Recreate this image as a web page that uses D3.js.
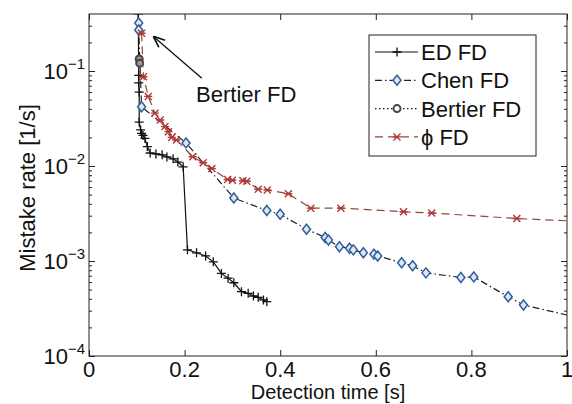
<!DOCTYPE html>
<meta charset="utf-8">
<html lang="en">
<head>
    <title>Mistake rate vs detection time</title>
    <script src="https://cdn.jsdelivr.net/npm/d3@7"></script>
</head>
<style>
    body { margin: 0; background: #fff; }
    svg { display: block; }
    text { font-family: "Liberation Sans", Arial, sans-serif; fill: #111; }
</style>
<body>
<svg width="572" height="404"></svg>
<script>
    // detection time [s] / mistake rate [1/s]
    const edX = [0.103, 0.104, 0.104, 0.105, 0.105, 0.108, 0.110, 0.113, 0.117, 0.122, 0.128, 0.140, 0.153, 0.163, 0.176, 0.186, 0.197, 0.206, 0.225, 0.244, 0.260, 0.277, 0.291, 0.303, 0.319, 0.333, 0.344, 0.354, 0.365, 0.372]
    const edY = [0.40, 0.09, 0.075, 0.06, 0.029, 0.024, 0.022, 0.021, 0.0195, 0.016, 0.0137, 0.0134, 0.0131, 0.01245, 0.0119, 0.011, 0.0098, 0.00131, 0.00122, 0.00113, 0.00098, 0.00074, 0.00066, 0.00059, 0.000475, 0.000457, 0.000428, 0.000415, 0.000389, 0.000373]

    const chenX = [0.104, 0.104, 0.110, 0.203, 0.303, 0.372, 0.400, 0.455, 0.494, 0.501, 0.524, 0.545, 0.553, 0.574, 0.596, 0.604, 0.654, 0.677, 0.705, 0.778, 0.805, 0.877, 0.909, 1.0]
    const chenY = [0.32, 0.27, 0.042, 0.0175, 0.0046, 0.0034, 0.0031, 0.00216, 0.00177, 0.00166, 0.00141, 0.00136, 0.00131, 0.00122, 0.00118, 0.00113, 0.00096, 0.00089, 0.00075, 0.00067, 0.00068, 0.00042, 0.000344, 0.00027]

    const bertierX = [0.105, 0.106]
    const bertierY = [0.134, 0.121]

    const phiX = [0.110, 0.114, 0.124, 0.138, 0.149, 0.159, 0.166, 0.173, 0.183, 0.217, 0.239, 0.257, 0.290, 0.300, 0.322, 0.330, 0.354, 0.373, 0.417, 0.464, 0.527, 0.658, 0.717, 0.895, 1.0]
    const phiY = [0.25, 0.087, 0.054, 0.036, 0.0305, 0.026, 0.023, 0.020, 0.0188, 0.0125, 0.0108, 0.0094, 0.0072, 0.0071, 0.0070, 0.0069, 0.0057, 0.0056, 0.0051, 0.0036, 0.0036, 0.0033, 0.0032, 0.0028, 0.00265]

    const xTicks = [0, 0.2, 0.4, 0.6, 0.8, 1]
    const yTicks = [1e-4, 1e-3, 1e-2, 1e-1]
    const yExp = ["\u22124", "\u22123", "\u22122", "\u22121"]

    const margin = {left: 89, top: 14, right: 5, bottom: 48}
    const W = 572, H = 404
    const iw = W - margin.left - margin.right
    const ih = H - margin.top - margin.bottom

    const svg = d3.select("svg")
    const g = svg.append("g").attr("transform", `translate(${margin.left},${margin.top})`)

    const x = d3.scaleLinear().domain([0, 1]).range([0, iw])
    const y = d3.scaleLog().domain([1e-4, Math.pow(10, -0.4)]).range([ih, 0])

    g.append("clipPath").attr("id", "clip")
        .append("rect").attr("width", iw).attr("height", ih)

    // frame + inward ticks (matlab style, mirrored)
    g.append("rect").attr("width", iw).attr("height", ih)
        .attr("fill", "none").attr("stroke", "#222").attr("stroke-width", 1)

    const minor = []
    for (let e = -4; e < 0; e++) for (let m = 2; m <= 9; m++) {
        const v = m * Math.pow(10, e)
        if (v <= y.domain()[1]) minor.push(v)
    }

    g.append("g").call(d3.axisBottom(x).tickValues(xTicks).tickSize(-6).tickFormat(""))
        .attr("transform", `translate(0,${ih})`)
    g.append("g").call(d3.axisTop(x).tickValues(xTicks).tickSize(-6).tickFormat(""))
    g.append("g").call(d3.axisLeft(y).tickValues(yTicks).tickSize(-6).tickFormat(""))
    g.append("g").call(d3.axisLeft(y).tickValues(minor).tickSize(-3).tickFormat(""))
    g.append("g").attr("transform", `translate(${iw},0)`)
        .call(d3.axisRight(y).tickValues(yTicks).tickSize(-6).tickFormat(""))
    g.append("g").attr("transform", `translate(${iw},0)`)
        .call(d3.axisRight(y).tickValues(minor).tickSize(-3).tickFormat(""))
    g.selectAll(".domain").remove()
    g.selectAll(".tick line").attr("stroke", "#222")

    // tick labels
    g.selectAll(".xlab").data(xTicks).enter().append("text")
        .attr("x", d => x(d)).attr("y", ih + 21)
        .attr("text-anchor", "middle").style("font-size", "22px")
        .text(d => d)

    const yl = g.selectAll(".ylab").data(yTicks).enter().append("text")
        .attr("x", -4).attr("y", d => y(d) + 8)
        .attr("text-anchor", "end").style("font-size", "22px")
    yl.append("tspan").text("10")
    yl.append("tspan").attr("dy", -10).style("font-size", "15px").text((d, i) => yExp[i])

    // axis titles
    svg.append("text").attr("x", margin.left + iw / 2).attr("y", 399)
        .attr("text-anchor", "middle").style("font-size", "20px")
        .text("Detection time [s]")
    svg.append("text").attr("transform", `translate(35,${margin.top + ih / 2 + 3}) rotate(-90)`)
        .attr("text-anchor", "middle").style("font-size", "22px")
        .text("Mistake rate [1/s]")

    // series
    const series = [
        {name: "ED FD", xs: edX, ys: edY, color: "#111", dash: null, marker: "plus", mcolor: "#111"},
        {name: "Chen FD", xs: chenX, ys: chenY, color: "#222", dash: "7,3,1.5,3", marker: "diamond", mcolor: "#2f5f9f"},
        {name: "Bertier FD", xs: bertierX, ys: bertierY, color: "#111", dash: "1.5,2.5", marker: "circle", mcolor: "#444"},
        {name: "\u03d5 FD", xs: phiX, ys: phiY, color: "#8a4a3a", dash: "8,5", marker: "star", mcolor: "#b03838"}
    ]

    const line = d3.line().x(d => x(d[0])).y(d => y(d[1]))
    const plot = g.append("g").attr("clip-path", "url(#clip)")

    function drawMarker(sel, kind, color, legend) {
        if (kind === "plus") {
            sel.append("path").attr("d", "M-4.5,0H4.5M0,-4.5V4.5")
                .attr("stroke", color).attr("stroke-width", 1.3).attr("fill", "none")
        } else if (kind === "diamond") {
            sel.append("path").attr("d", "M0,-5L4,0L0,5L-4,0Z")
                .attr("stroke", color).attr("stroke-width", 1.5).attr("fill", "#dfe8f2")
        } else if (kind === "circle") {
            sel.append("circle").attr("r", 3.5)
                .attr("stroke", color).attr("stroke-width", 2).attr("fill", legend ? "#fff" : "#999")
        } else {
            sel.append("path").attr("d", "M-3.5,-3.5L3.5,3.5M-3.5,3.5L3.5,-3.5M-4,0H4")
                .attr("stroke", color).attr("stroke-width", 1.4).attr("fill", "none")
        }
    }

    series.forEach(s => {
        const pts = s.xs.map((v, i) => [v, s.ys[i]])
        plot.append("path").datum(pts).attr("d", line)
            .attr("fill", "none").attr("stroke", s.color).attr("stroke-width", 1.2)
            .attr("stroke-dasharray", s.dash)
        plot.selectAll(null).data(pts.filter(p => p[0] < 1)).enter().append("g")
            .attr("transform", p => `translate(${x(p[0])},${y(p[1])})`)
            .each(function () { drawMarker(d3.select(this), s.marker, s.mcolor, false) })
    })

    // annotation arrow
    svg.append("defs").append("marker").attr("id", "arr")
        .attr("viewBox", "0 0 10 10").attr("refX", 9).attr("refY", 5)
        .attr("markerWidth", 9).attr("markerHeight", 9).attr("orient", "auto")
        .append("path").attr("d", "M0,1L10,5L0,9").attr("fill", "none")
        .attr("stroke", "#111").attr("stroke-width", 1.4)
    g.append("line")
        .attr("x1", x(0.236)).attr("y1", y(0.084))
        .attr("x2", x(0.136)).attr("y2", y(0.228))
        .attr("stroke", "#111").attr("stroke-width", 1.3).attr("marker-end", "url(#arr)")
    g.append("text").attr("x", x(0.224)).attr("y", y(0.047))
        .style("font-size", "22px").text("Bertier FD")

    // legend
    const lg = g.append("g").attr("transform", `translate(${369 - margin.left},${35 - margin.top})`)
    lg.append("rect").attr("width", 167).attr("height", 121)
        .attr("fill", "#fff").attr("stroke", "#222").attr("stroke-width", 1)
    series.forEach((s, i) => {
        const row = lg.append("g").attr("transform", `translate(0,${17 + i * 28.3})`)
        row.append("line").attr("x1", 6).attr("x2", 49)
            .attr("stroke", s.color).attr("stroke-width", 1.2).attr("stroke-dasharray", s.dash)
        drawMarker(row.append("g").attr("transform", "translate(28,0)"), s.marker, s.mcolor, true)
        row.append("text").attr("x", 52).attr("y", 8).style("font-size", "22px").text(s.name)
    })
</script>
</body>
</html>
